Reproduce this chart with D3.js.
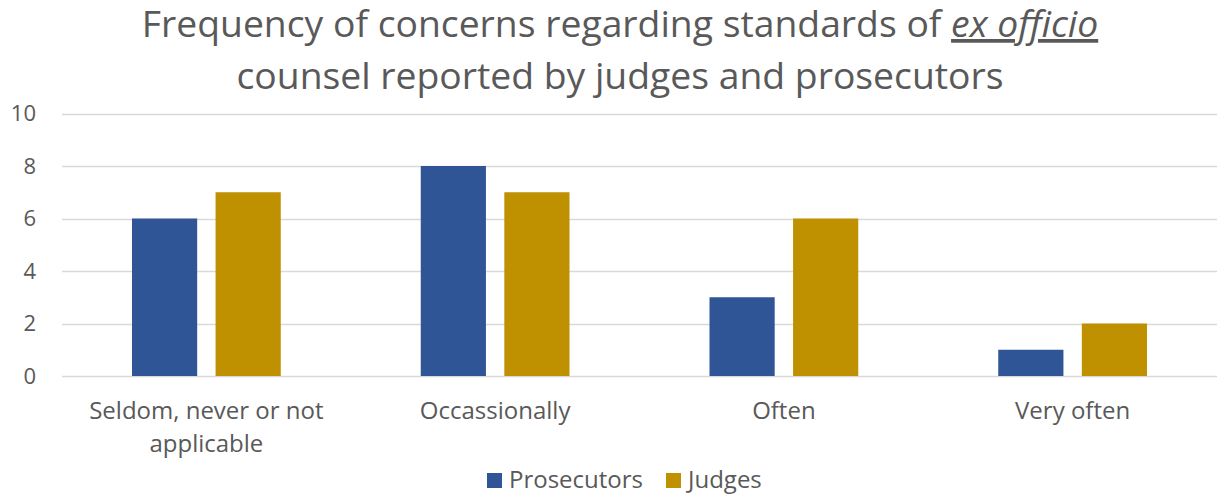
<!DOCTYPE html>
<html>
<head>
<meta charset="utf-8">
<script src="https://cdn.jsdelivr.net/npm/d3@7"></script>
<style>
  body { margin: 0; background: #fff; }
  svg text { font-family: "Open Sans", sans-serif; fill: #595959; }
</style>
</head>
<body>
<div id="chart"></div>
<script>
const categories = [["Seldom, never or not", "applicable"], ["Occassionally"], ["Often"], ["Very often"]];
const seriesNames = ["Prosecutors", "Judges"];
const prosecutors = [6, 8, 3, 1];
const judges = [7, 7, 6, 2];
const yTicks = [0, 2, 4, 6, 8, 10];
const colors = ["#2F5597", "#BF9000"];

const width = 1218, height = 494;
const margin = {left: 62, right: 1, top: 113.5, bottom: 118};

const svg = d3.select("#chart").append("svg")
    .attr("width", width)
    .attr("height", height);

// title
const title = svg.append("text")
    .attr("text-anchor", "middle")
    .attr("font-size", 37.3);
title.append("tspan").attr("x", 620).attr("y", 37).text("Frequency of concerns regarding standards of ");
title.append("tspan").attr("font-style", "italic").attr("text-decoration", "underline").text("ex officio");
svg.append("text")
    .attr("text-anchor", "middle")
    .attr("font-size", 37.3)
    .attr("x", 620).attr("y", 89)
    .text("counsel reported by judges and prosecutors");

const x = d3.scaleBand()
    .domain(d3.range(categories.length))
    .range([margin.left, width - margin.right])
    .paddingInner(0)
    .paddingOuter(0);

const xInner = d3.scaleBand()
    .domain(seriesNames)
    .range([70, x.bandwidth() - 70])
    .paddingInner(0.22);

const y = d3.scaleLinear()
    .domain([0, 10])
    .range([height - margin.bottom, margin.top]);

// gridlines
svg.append("g")
    .selectAll("line")
    .data(yTicks)
    .enter().append("line")
    .attr("x1", margin.left)
    .attr("x2", width - margin.right)
    .attr("y1", d => Math.round(y(d)) + 0.5)
    .attr("y2", d => Math.round(y(d)) + 0.5)
    .attr("stroke", "#d9d9d9")
    .attr("stroke-width", 1.5);

svg.append("g")
    .selectAll("text")
    .data(yTicks)
    .enter().append("text")
    .attr("x", 36)
    .attr("y", d => y(d))
    .attr("dy", "0.35em")
    .attr("text-anchor", "end")
    .attr("font-size", 22)
    .text(d => d);

// bars
const seriesData = [prosecutors, judges];
seriesData.forEach((vals, si) => {
    svg.append("g")
        .selectAll("rect")
        .data(vals)
        .enter().append("rect")
        .attr("x", (d, i) => x(i) + xInner(seriesNames[si]))
        .attr("y", d => y(d))
        .attr("width", xInner.bandwidth())
        .attr("height", d => y(0) - y(d))
        .attr("fill", colors[si]);
});

// category labels
const catG = svg.append("g")
    .selectAll("text")
    .data(categories)
    .enter().append("text")
    .attr("text-anchor", "middle")
    .attr("font-size", 24);
catG.selectAll("tspan")
    .data((d, i) => d.map(t => ({t, i})))
    .enter().append("tspan")
    .attr("x", d => x(d.i) + x.bandwidth() / 2)
    .attr("y", (d, j) => 419 + j * 33)
    .text(d => d.t);

// legend
const legend = svg.append("g");
const legendItems = [{name: "Prosecutors", x: 487}, {name: "Judges", x: 666}];
legendItems.forEach((it, i) => {
    legend.append("rect")
        .attr("x", it.x)
        .attr("y", 473)
        .attr("width", 15)
        .attr("height", 15)
        .attr("fill", colors[i]);
    legend.append("text")
        .attr("x", it.x + 22)
        .attr("y", 488)
        .attr("font-size", 24)
        .text(it.name);
});
</script>
</body>
</html>
